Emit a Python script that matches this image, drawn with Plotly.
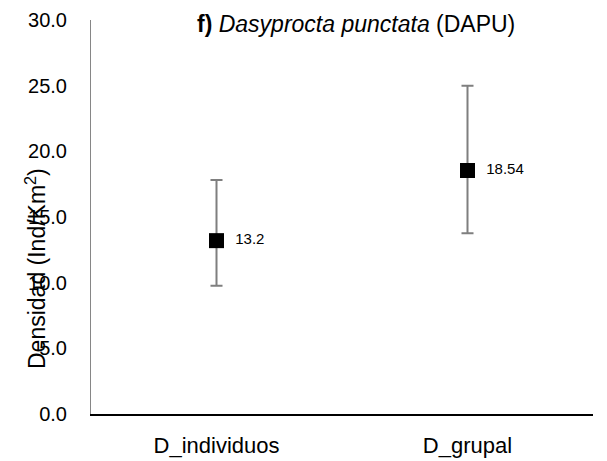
import plotly.graph_objects as go

categories = ["D_individuos", "D_grupal"]
values = [13.2, 18.54]
err_plus = [4.62, 6.46]
err_minus = [3.43, 4.78]
value_labels = ["13.2", "18.54"]
y_ticks = [0, 5, 10, 15, 20, 25, 30]
y_tick_labels = ["0.0", "5.0", "10.0", "15.0", "20.0", "25.0", "30.0"]

FONT = "Liberation Sans, Arial, sans-serif"

fig = go.Figure()
fig.add_trace(go.Scatter(
    x=categories, y=values, mode="markers+text",
    marker=dict(symbol="square", size=15, color="black"),
    error_y=dict(type="data", symmetric=False, array=err_plus, arrayminus=err_minus,
                 color="#7f7f7f", thickness=2, width=6),
    text=["  " + t for t in value_labels], textposition="middle right",
    textfont=dict(family=FONT, size=15, color="black"),
    showlegend=False, cliponaxis=False,
))

fig.update_layout(
    width=607, height=461,
    margin=dict(l=91, r=14, t=20, b=47, autoexpand=False),
    plot_bgcolor="white", paper_bgcolor="white",
    font=dict(family=FONT, color="black"),
    xaxis=dict(type="category", range=[-0.5, 1.5], showline=True, linecolor="black", linewidth=2,
               showgrid=False, ticks="", tickfont=dict(size=22, color="black"), ticklabelstandoff=11,
               zeroline=False, automargin=False),
    yaxis=dict(range=[0, 30], tickvals=y_ticks, ticktext=y_tick_labels, showline=True,
               linecolor="#868686", linewidth=1, showgrid=False, ticks="",
               tickfont=dict(size=20, color="black"), ticklabelstandoff=19, zeroline=False,
               automargin=False),
)

fig.add_annotation(
    text="Densidad (Ind/Km<sup>2</sup>)", textangle=-90, xref="paper", yref="paper",
    x=-0.11, y=0.37, xanchor="center", yanchor="middle", showarrow=False,
    font=dict(family=FONT, size=23, color="black"),
)
fig.add_annotation(
    text="<b>f)</b> <i>Dasyprocta punctata</i> (DAPU)", xref="paper", yref="paper",
    x=0.528, y=0.99, xanchor="center", yanchor="middle", showarrow=False,
    font=dict(family=FONT, size=23, color="black"),
)

fig.write_html("out.html")
